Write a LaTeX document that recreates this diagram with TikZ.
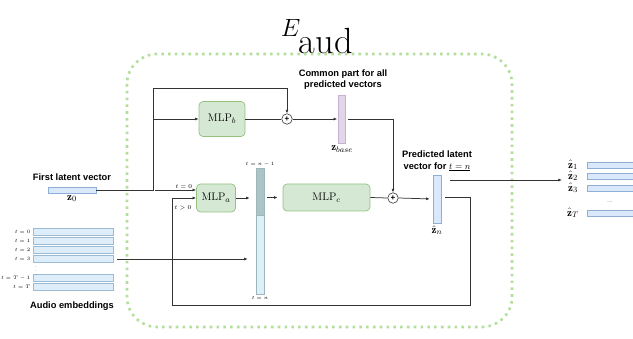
\documentclass[tikz,border=0pt]{standalone}
\usepackage{amsmath}
\usepackage{fontspec}
\setsansfont{Liberation Sans}
\usetikzlibrary{arrows.meta,positioning}

\begin{document}
\begin{tikzpicture}[
  x=1pt,
  y=-1pt,
  >={Latex[length=3.6pt,width=3pt]},
  font=\fontsize{9}{10.5}\selectfont,
  frame/.style={draw=dotgreen,line width=2.6pt,dash pattern=on 2.6pt off 4.2pt,
    rounded corners=30pt},
  mlp/.style={rounded corners=4pt,draw=mlpedge,fill=mlpfill,line width=0.7pt,
    minimum height=28pt,inner sep=0pt,font=\fontsize{11}{12}\selectfont},
  vecbar/.style={line width=0.5pt,inner sep=0pt},
  plus/.style={circle,draw=wiregray,fill=white,line width=0.6pt,minimum size=10.5pt,
    inner sep=0pt,font=\sffamily\bfseries\fontsize{8}{8}\selectfont},
  head/.style={font=\sffamily\bfseries\fontsize{9.3}{11.5}\selectfont,align=center},
  tsmall/.style={font=\fontsize{5.6}{6}\selectfont,inner sep=1pt},
  tcol/.style={font=\fontsize{4.4}{5}\selectfont,inner sep=0.5pt},
  vlabel/.style={font=\fontsize{11}{12}\selectfont,inner sep=1pt},
  wire/.style={draw=wiregray,line width=0.75pt},
  arr/.style={wire,->}
]
  \definecolor{dotgreen}{HTML}{B3DF9C}
  \definecolor{mlpfill}{HTML}{D5E8D4}
  \definecolor{mlpedge}{HTML}{93C27F}
  \definecolor{zblue}{HTML}{DAE8FC}
  \definecolor{zblueedge}{HTML}{8FAFD6}
  \definecolor{audfill}{HTML}{DDEEFA}
  \definecolor{audedge}{HTML}{9DBBD3}
  \definecolor{basefill}{HTML}{E1D5E7}
  \definecolor{baseedge}{HTML}{C6B0D3}
  \definecolor{coldark}{HTML}{ABC4C4}
  \definecolor{collight}{HTML}{DDF0F8}
  \definecolor{coledge}{HTML}{9DB5BD}
  \definecolor{wiregray}{HTML}{333333}

  \useasboundingbox (0,0) rectangle (633,339);

  % title and encoder frame
  \node[font=\fontsize{52}{56}\selectfont,anchor=base] (title) at (317,37)
    {$E_{\text{aud}}$};
  \draw[frame] (127,54) rectangle (512,327);

  % first latent vector
  \node[vecbar,fill=zblue,draw=zblueedge,minimum width=48pt,minimum height=6pt]
    (z0bar) at (72,190) {};
  \node[head,above=3pt of z0bar] (z0head) {First latent vector};
  \node[vlabel,below=1pt of z0bar] (z0lbl) {$\mathbf{z}_0$};

  % audio embeddings
  \foreach \nm/\yy/\lb in {a0/232/{t=0},a1/241/{t=1},a2/250/{t=2},a3/259/{t=3},
      aT1/278/{t=T-1},aT/287/{t=T}}{
    \node[vecbar,fill=audfill,draw=audedge,minimum width=80pt,minimum height=7pt]
      (\nm) at (73,\yy) {};
    \node[tsmall,anchor=east,font=\fontsize{5.2}{6}\selectfont,inner sep=0.5pt]
      (\nm lbl) at (31,\yy) {$\lb$};
  }
  \node[tcol] (adots) at (36,268) {$\vdots$};
  \node[head] (audhead) at (72,306) {Audio embeddings};

  % top branch
  \node[mlp,minimum width=46pt,minimum height=35pt] (mlpb) at (222,119)
    {$\mathrm{MLP}_b$};
  \node[plus] (plusb) at (287,119) {+};
  \node[vecbar,fill=basefill,draw=baseedge,minimum width=7pt,minimum height=48pt]
    (zbase) at (342,119) {};
  \node[vlabel,below=1pt of zbase] (zbaselbl) {$\mathbf{z}_{base}$};
  \node[head] (common) at (343,79.5) {Common part for all\\predicted vectors};

  % lower branch
  \node[mlp,minimum width=39pt] (mlpa) at (216,198) {$\mathrm{MLP}_a$};
  \node[vecbar,fill=coldark,draw=coledge,minimum width=8pt,minimum height=47pt]
    (colhi) at (260,191.5) {};
  \node[vecbar,fill=collight,draw=coledge,minimum width=8pt,minimum height=79pt]
    (collo) at (260,254.5) {};
  \node[tcol,above=1pt of colhi] (colhilbl) {$t=n-1$};
  \node[tcol,below=1pt of collo] (collolbl) {$t=n$};
  \node[mlp,minimum width=87pt,minimum height=27pt] (mlpc) at (326.5,197.5)
    {$\mathrm{MLP}_c$};
  \node[plus] (plusc) at (393,198) {+};
  \node[vecbar,fill=zblue,draw=zblueedge,minimum width=8pt,minimum height=48pt]
    (zhat) at (437,199) {};
  \node[vlabel,below=1pt of zhat] (zhatlbl) {$\hat{\mathbf{z}}_n$};
  \node[head] (predhead) at (437,161) {Predicted latent\\vector for \underline{$t=n$}};

  % predicted outputs
  \foreach \nm/\yy/\lb in {1/165/1,2/176/2,3/188/3,T/213/T}{
    \node[vecbar,fill=zblue,draw=zblueedge,minimum width=46pt,minimum height=6pt]
      (oz\nm) at (610,\yy) {};
    \node[vlabel] (lz\nm) at (573,\yy) {$\hat{\mathbf{z}}_{\lb}$};
  }
  \node[tsmall] (odots) at (610,202) {...};

  % connectors
  \coordinate (jz) at (153,190);
  \coordinate (jtop) at (153,88);
  \coordinate (fbr) at (470,305);
  \coordinate (fbl) at (172,305);
  \coordinate (outs) at (450,180);

  \draw[arr] (z0bar.east) -- (jz) -- (jtop) -| (plusb.north);
  \draw[arr] (jz |- mlpb.west) -- (mlpb.west);
  \draw[wire] (mlpb.east) -- (plusb.west);
  \draw[arr,shorten >=1pt] (plusb.east) -- (zbase.west);
  \draw[arr] ([xshift=2pt]jz) -- (jz -| mlpa.west)
    node[tsmall,pos=0.7,above] (t0lbl) {$t=0$};
  \draw[arr] ([xshift=4pt,yshift=2pt]zhat.east) -| (fbr) -- (fbl) |- (mlpa.west);
  \node[tsmall] (tgtlbl) at (183,208) {$t>0$};
  \draw[arr,shorten >=6pt] (mlpa.east) -- (mlpa.east -| colhi.west);
  \draw[arr,shorten <=3pt,shorten >=5pt] (colhi.east |- mlpc.west) -- (mlpc.west);
  \draw[arr,shorten <=4pt,shorten >=8pt] (a3.east) -- (a3.east -| collo.west);
  \draw[wire] (mlpc.east) -- (plusc.west);
  \draw[arr,shorten <=2pt] (zbase.east) -| (plusc.north);
  \draw[arr,shorten >=3pt] (plusc.east) -- (zhat.west);
  \draw[arr,shorten >=5pt] (outs) -- (outs -| lz2.west);
\end{tikzpicture}
\end{document}
